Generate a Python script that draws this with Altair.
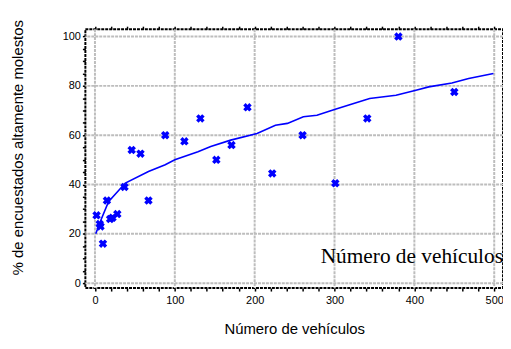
import altair as alt
import pandas as pd

# Observed points
veh = [2, 6, 7, 10, 15, 19, 22, 28, 37, 46, 57, 67, 88, 112, 132, 152, 171, 191, 222, 260, 301, 341, 380, 450]
pct = [27.5, 24, 23, 16, 33.5, 26, 26.5, 28, 39, 54, 52.5, 33.5, 60, 57.5, 66.8, 50, 56, 71.3, 44.5, 60, 40.5, 66.8, 100, 77.5]

# Fitted curve
fit_x = [1, 8, 17, 38, 67, 88, 100, 129, 145, 170, 203, 226, 241, 261, 278, 300, 323, 344, 377, 402, 418, 447, 468, 499]
fit_y = [20, 26, 33, 40.6, 45.3, 48, 50, 53.3, 55.4, 58, 60.7, 64, 64.8, 67.5, 68.1, 70.4, 72.8, 74.9, 76.2, 78.2, 79.6, 81.2, 83, 85]

x_ticks = [0, 100, 200, 300, 400, 500]
y_ticks = [0, 20, 40, 60, 80, 100]
x_minor = list(range(0, 501, 20))
y_minor = list(range(0, 101, 5))

pts = pd.DataFrame({"x": veh, "y": pct})
fit = pd.DataFrame({"x": fit_x, "y": fit_y})
xgrid = pd.DataFrame({"x": x_ticks})
ygrid = pd.DataFrame({"y": y_ticks})

xs = alt.Scale(domain=[-12, 511], nice=False, zero=False)
ys = alt.Scale(domain=[-2, 103], nice=False, zero=False)

label_font = "Liberation Sans"

x_axis = alt.Axis(
    values=x_minor, tickCount=100,
    labelExpr="datum.value % 100 === 0 ? datum.label : ''",
    labelOverlap=False,
    title="Número de vehículos",
    titleFont=label_font, titleFontSize=15, titleFontWeight="normal", titleColor="black",
    titlePadding=16,
    labelFont=label_font, labelFontSize=11, labelColor="black", labelPadding=4,
    grid=False,
    tickColor="black", tickSize=3, tickWidth=1.5, domain=False,
    labelFlush=False,
)
y_axis = alt.Axis(
    values=y_minor, tickCount=100,
    labelExpr="datum.value % 20 === 0 ? datum.label : ''",
    labelOverlap=False,
    title="% de encuestados altamente molestos",
    titleFont=label_font, titleFontSize=15, titleFontWeight="normal", titleColor="black",
    titleX=-68, titleY=119, titleAngle=-90, titleAlign="center", titleBaseline="middle",
    labelFont=label_font, labelFontSize=11, labelColor="black", labelPadding=2,
    grid=False,
    tickColor="black", tickSize=3, tickWidth=1.5, domain=False,
    labelFlush=False,
)
x_top = alt.Axis(orient="top", values=x_minor, tickCount=100, labels=False, title=None,
                 grid=False, domain=False, tickColor="black", tickSize=3, tickWidth=1.5)
y_right = alt.Axis(orient="right", values=y_minor, tickCount=100, labels=False, title=None,
                   grid=False, domain=False, tickColor="black", tickSize=3, tickWidth=1.5)

grid_style = dict(color="#bdbdbd", strokeWidth=2, strokeDash=[3, 1])

vgrid = alt.Chart(xgrid).mark_rule(**grid_style).encode(
    x=alt.X("x:Q", scale=xs, axis=x_axis),
)
hgrid = alt.Chart(ygrid).mark_rule(**grid_style).encode(
    y=alt.Y("y:Q", scale=ys, axis=y_axis),
)

points = alt.Chart(pts).mark_point(
    shape="cross", angle=45, filled=True, color="#0000ff", size=75, opacity=1
).encode(
    x=alt.X("x:Q", scale=xs, axis=x_top),
    y=alt.Y("y:Q", scale=ys, axis=y_right),
)

line = alt.Chart(fit).mark_line(color="#0000ff", strokeWidth=1.6).encode(
    x=alt.X("x:Q", scale=xs, axis=None),
    y=alt.Y("y:Q", scale=ys, axis=None),
)

label = alt.Chart(pd.DataFrame({"t": ["Número de vehículos"]})).mark_text(
    font="Liberation Serif", fontSize=21.5, align="right", baseline="middle", color="black"
).encode(
    x=alt.datum(511, scale=xs, axis=None),
    y=alt.datum(10.5, scale=ys, axis=None),
    text="t:N",
)

chart = alt.layer(vgrid, hgrid, points, line, label).resolve_axis(
    x="independent", y="independent"
).properties(
    width=421, height=261,
    background="white",
    autosize=alt.AutoSizeParams(type="none"),
    padding={"left": 78, "top": 20, "right": 0, "bottom": 50},
).configure_view(
    stroke="black", strokeWidth=2, strokeDash=[3, 1]
)

chart.save("out.html", embed_options={"renderer": "svg", "actions": False})
